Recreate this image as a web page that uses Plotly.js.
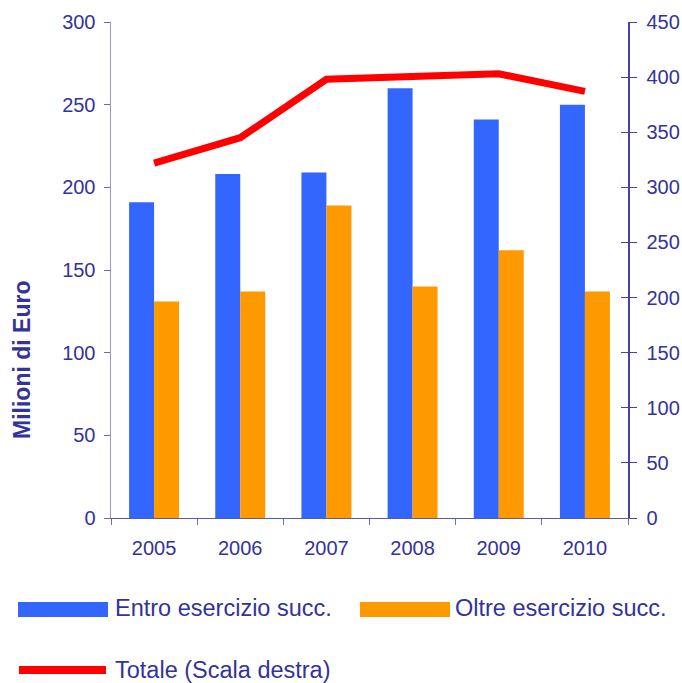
<!DOCTYPE html>
<html>
<head>
<meta charset="utf-8">
<script src="https://cdn.plot.ly/plotly-3.0.1.min.js"></script>
<style>
html,body{margin:0;padding:0;background:#fff;}
#chart{width:682px;height:683px;}
</style>
</head>
<body>
<div id="chart"></div>
<script>
// Data
const years = ["2005", "2006", "2007", "2008", "2009", "2010"];
const entro = [191, 208, 209, 260, 241, 250];
const oltre = [131, 137, 189, 140, 162, 137];
const totale = [322, 345, 398, 400, 403, 387];
const seriesNames = ["Entro esercizio succ.", "Oltre esercizio succ.", "Totale (Scala destra)"];
const yLeftTitle = "Milioni di Euro";

const W = 682, H = 683;
const M = {l: 111, r: 54, t: 22, b: 165};
const PW = W - M.l - M.r, PH = H - M.t - M.b;
const px = x => (x - M.l) / PW;
const py = y => (H - M.b - y) / PH;

const txt = '#333399';
const FONT = 'Liberation Sans, Arial, sans-serif';

const traces = [
  {type: 'bar', x: years, y: entro, name: seriesNames[0], marker: {color: '#3366FF', line: {width: 0}}, yaxis: 'y', showlegend: false},
  {type: 'bar', x: years, y: oltre, name: seriesNames[1], marker: {color: '#FF9900', line: {width: 0}}, yaxis: 'y', showlegend: false},
  {type: 'scatter', mode: 'lines', x: years, y: totale, name: seriesNames[2], line: {color: '#FF0000', width: 7}, yaxis: 'y2', showlegend: false},
  // empty helper trace so the inner-tick overlay axis is rendered
  {type: 'scatter', mode: 'lines', x: [], y: [], yaxis: 'y3', showlegend: false, hoverinfo: 'skip'}
];

const layout = {
  width: W, height: H,
  margin: M,
  paper_bgcolor: '#fff', plot_bgcolor: '#fff',
  font: {family: FONT, color: txt, size: 20},
  barmode: 'group', bargap: 0.42, bargroupgap: 0,
  showlegend: false,
  xaxis: {
    type: 'category', showgrid: false, zeroline: false,
    showline: true, linecolor: '#5A5AAA', linewidth: 1,
    ticks: 'outside', ticklen: 6, tickcolor: '#7070B4', tickson: 'boundaries',
    tickfont: {size: 20, color: txt}, ticklabelstandoff: 12, fixedrange: true
  },
  yaxis: {
    range: [0, 300], dtick: 50, tick0: 0, showgrid: false, zeroline: false,
    showline: true, linecolor: '#9999CC', linewidth: 1.5,
    ticks: 'outside', ticklen: 6, tickcolor: '#6A6AB0',
    tickfont: {size: 20, color: txt}, ticklabelstandoff: 4, fixedrange: true
  },
  yaxis2: {
    range: [0, 450], dtick: 50, tick0: 0, overlaying: 'y', side: 'right', anchor: 'x',
    showgrid: false, zeroline: false,
    showline: true, linecolor: '#4444A0', linewidth: 1.5,
    ticks: 'outside', ticklen: 7, tickcolor: '#4444A0',
    tickfont: {size: 20, color: txt}, ticklabelstandoff: 6, fixedrange: true
  },
  yaxis3: {
    range: [0, 450], dtick: 50, tick0: 0, overlaying: 'y', side: 'right', anchor: 'x',
    showgrid: false, zeroline: false, showline: false,
    ticks: 'inside', ticklen: 7, tickcolor: '#4444A0', showticklabels: false, fixedrange: true
  },
  annotations: [
    {text: '<b>' + yLeftTitle + '</b>', textangle: -90, xref: 'paper', yref: 'paper',
     x: px(22), y: py(360), xanchor: 'center', yanchor: 'middle', showarrow: false,
     font: {size: 23, color: txt, family: FONT}},
    {text: seriesNames[0], xref: 'paper', yref: 'paper', x: px(113), y: py(608),
     xanchor: 'left', yanchor: 'middle', showarrow: false, font: {size: 23.5, color: txt, family: FONT}},
    {text: seriesNames[1], xref: 'paper', yref: 'paper', x: px(453), y: py(608),
     xanchor: 'left', yanchor: 'middle', showarrow: false, font: {size: 23.5, color: txt, family: FONT}},
    {text: seriesNames[2], xref: 'paper', yref: 'paper', x: px(113), y: py(670),
     xanchor: 'left', yanchor: 'middle', showarrow: false, font: {size: 23.5, color: txt, family: FONT}}
  ],
  shapes: [
    {type: 'rect', xref: 'paper', yref: 'paper', x0: px(18), x1: px(108), y0: py(602), y1: py(617),
     fillcolor: '#3366FF', line: {width: 0}},
    {type: 'rect', xref: 'paper', yref: 'paper', x0: px(360), x1: px(450), y0: py(602), y1: py(617),
     fillcolor: '#FF9900', line: {width: 0}},
    {type: 'line', xref: 'paper', yref: 'paper', x0: px(19), x1: px(106), y0: py(670), y1: py(670),
     line: {color: '#FF0000', width: 8}}
  ]
};

Plotly.newPlot('chart', traces, layout, {displayModeBar: false, staticPlot: true});
</script>
</body>
</html>
